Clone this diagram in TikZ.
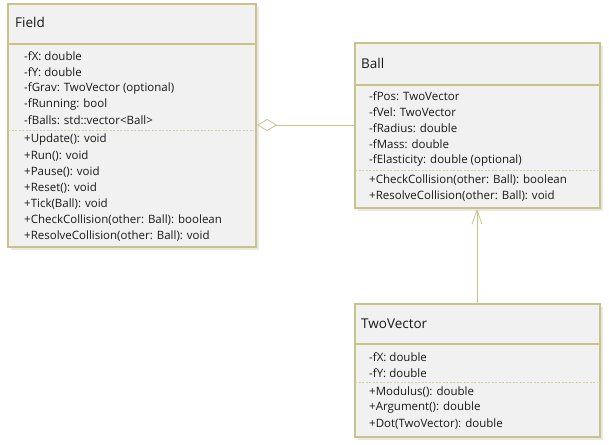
\documentclass[tikz,border=0pt]{standalone}
\usepackage{fontspec}
\setmainfont{Open Sans}
\usetikzlibrary{arrows.meta}
\definecolor{umlborder}{RGB}{202,194,136}
\definecolor{umlfill}{RGB}{241,241,241}
\definecolor{umltext}{RGB}{25,25,25}
\tikzset{
  classbox/.style={draw=umlborder, line width=2pt, fill=umlfill, rectangle, inner sep=0pt, anchor=north west},
  shadowbox/.style={fill=black, fill opacity=0.09, draw=none, rectangle, inner sep=0pt, anchor=north west},
  title/.style={anchor=west, inner sep=0pt, font=\fontsize{13.5}{15}\selectfont, text=umltext},
  member/.style={anchor=west, inner sep=0pt, font=\fontsize{11.5}{13}\selectfont, text=umltext},
  sepline/.style={draw=umlborder, line width=1.6pt},
  dashsep/.style={draw=umlborder!80, line width=0.9pt, dash pattern=on 2pt off 1.5pt},
  conn/.style={draw=umlborder, line width=0.8pt},
}
\begin{document}
\begin{tikzpicture}[x=1pt,y=-1pt]
\useasboundingbox (0,0) rectangle (609,444);
% shadows
\node[shadowbox, minimum width=248pt, minimum height=243pt] at (9,5) {};
\node[shadowbox, minimum width=248pt, minimum height=243pt] at (11,7) {};
\node[shadowbox, minimum width=245pt, minimum height=165pt] at (356,44) {};
\node[shadowbox, minimum width=245pt, minimum height=165pt] at (358,46) {};
\node[shadowbox, minimum width=245pt, minimum height=133pt] at (356,305) {};
\node[shadowbox, minimum width=245pt, minimum height=133pt] at (358,307) {};
% Field
\node[classbox, minimum width=248pt, minimum height=243pt] (field) at (7,3) {};
\draw[sepline] (7,44) -- (255,44);
\draw[dashsep] (8,130) -- (254,130);
\node[title] (fieldT) at (15,22) {Field};
\node[member] (f1) at (24,56) {-fX: double};
\node[member] (f2) at (24,72) {-fY: double};
\node[member] (f3) at (24,88) {-fGrav: TwoVector (optional)};
\node[member] (f4) at (24,104) {-fRunning: bool};
\node[member] (f5) at (24,120) {-fBalls: std::vector<Ball>};
\node[member] (f6) at (24,140) {+Update(): void};
\node[member] (f7) at (24,156) {+Run(): void};
\node[member] (f8) at (24,172) {+Pause(): void};
\node[member] (f9) at (24,188) {+Reset(): void};
\node[member] (f10) at (24,204) {+Tick(Ball): void};
\node[member] (f11) at (24,220) {+CheckCollision(other: Ball): boolean};
\node[member] (f12) at (24,236) {+ResolveCollision(other: Ball): void};
% Ball
\node[classbox, minimum width=245pt, minimum height=165pt] (ball) at (354,42) {};
\draw[sepline] (354,85) -- (599,85);
\draw[dashsep] (355,170) -- (598,170);
\node[title] (ballT) at (361,63) {Ball};
\node[member] (b1) at (369,96) {-fPos: TwoVector};
\node[member] (b2) at (369,112) {-fVel: TwoVector};
\node[member] (b3) at (369,128) {-fRadius: double};
\node[member] (b4) at (369,144) {-fMass: double};
\node[member] (b5) at (369,160) {-fElasticity: double (optional)};
\node[member] (b6) at (369,180) {+CheckCollision(other: Ball): boolean};
\node[member] (b7) at (369,196) {+ResolveCollision(other: Ball): void};
% TwoVector
\node[classbox, minimum width=245pt, minimum height=133pt] (tv) at (354,303) {};
\draw[sepline] (354,344) -- (599,344);
\draw[dashsep] (355,382) -- (598,382);
\node[title] (tvT) at (361,324) {TwoVector};
\node[member] (t1) at (369,357) {-fX: double};
\node[member] (t2) at (369,373) {-fY: double};
\node[member] (t3) at (369,392) {+Modulus(): double};
\node[member] (t4) at (369,408) {+Argument(): double};
\node[member] (t5) at (369,424) {+Dot(TwoVector): double};
% connectors
\coordinate (aggA) at (field.east |- 0,125);
\coordinate (aggB) at (ball.west |- 0,125);
\draw[conn, {Diamond[open, length=20pt, width=12pt, line width=0.8pt]}-] (aggA) -- (aggB);
\coordinate (tvTop) at (tv.north -| 477,0);
\coordinate (ballBot) at (ball.south -| 477,0);
\draw[conn, -{Straight Barb[length=14pt, width=10pt, line width=0.8pt]}] (tvTop) -- (ballBot);
\end{tikzpicture}
\end{document}
